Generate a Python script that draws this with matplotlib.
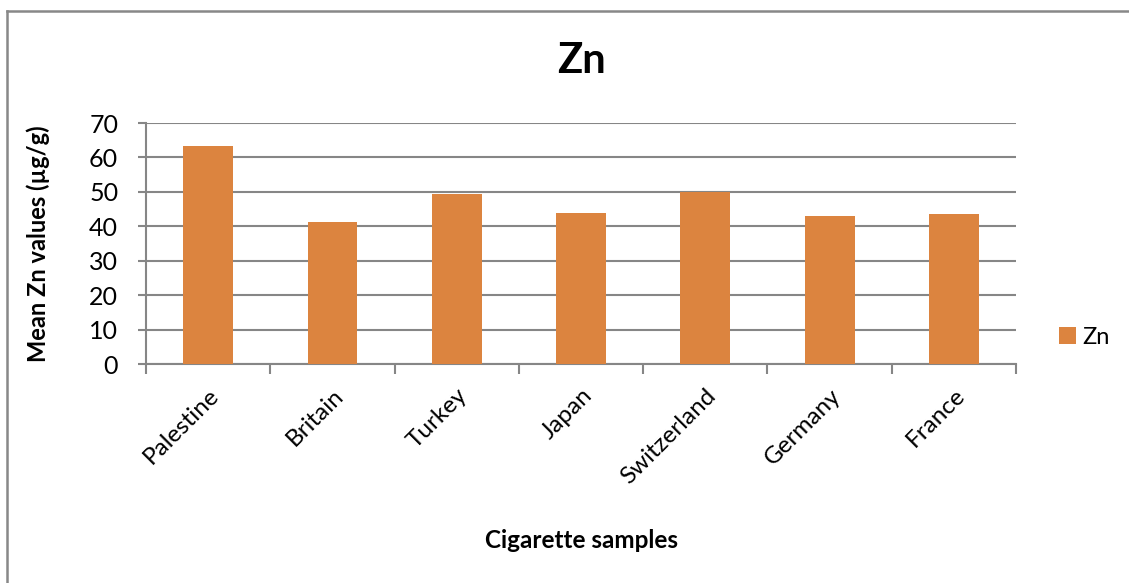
import numpy as np
import matplotlib.pyplot as plt
from matplotlib.lines import Line2D

plt.rcParams["font.family"] = ["Lato", "DejaVu Sans"]

# Mean zinc content per cigarette origin
countries = ["Palestine", "Britain", "Turkey", "Japan", "Switzerland", "Germany", "France"]
zn_values = [63.2, 41.2, 49.4, 43.8, 49.9, 42.9, 43.5]

bar_color = "#dc843f"
grid_color = "#868686"

fig = plt.figure(figsize=(11.29, 5.83), dpi=100)
ax = fig.add_axes([0.1293, 0.3756, 0.7707, 0.4134])

x = np.arange(len(countries))
ax.bar(x, zn_values, width=0.4, color=bar_color, label="Zn", zorder=3)

ax.set_xlim(-0.5, len(countries) - 0.5)
ax.set_ylim(0, 70)
ax.set_yticks(np.arange(0, 71, 10))
ax.yaxis.grid(True, color=grid_color, linewidth=1.5, zorder=0)

for side in ["top", "right"]:
    ax.spines[side].set_visible(False)
ax.spines["left"].set_color(grid_color)
ax.spines["bottom"].set_color(grid_color)
ax.spines["left"].set_linewidth(1.5)
ax.spines["bottom"].set_linewidth(1.5)

# category labels sit between boundary tick marks
ax.set_xticks(x)
ax.set_xticklabels(countries, rotation=45, ha="right", rotation_mode="anchor", fontsize=17.5)
ax.tick_params(axis="x", length=0, pad=15)
ax.set_xticks(np.arange(-0.5, len(countries)), minor=True)
ax.tick_params(axis="x", which="minor", length=7, width=1.5, color=grid_color)
ax.tick_params(axis="y", length=6, width=1.5, color=grid_color, labelsize=18, pad=14)

ax.set_ylabel("Mean Zn values (µg/g)", fontsize=17, fontweight="bold", labelpad=28)
ax.set_xlabel("Cigarette samples", fontsize=17.5, fontweight="bold", labelpad=30)
ax.set_title("Zn", fontsize=30, fontweight="bold", pad=36)

ax.legend(loc="center left", bbox_to_anchor=(1.025, 0.11), frameon=False,
          fontsize=17, handlelength=0.7, handleheight=0.7, handletextpad=0.3)

# outer chart border (top and left edges fall inside the canvas)
top = 1 - 11 / 583
left = 7 / 1129
border = dict(transform=fig.transFigure, color="#888888", linewidth=1.8)
fig.add_artist(Line2D([left, 1.0], [top, top], **border))
fig.add_artist(Line2D([left, left], [0.0, top], **border))

fig.savefig("out.png", dpi=100)
